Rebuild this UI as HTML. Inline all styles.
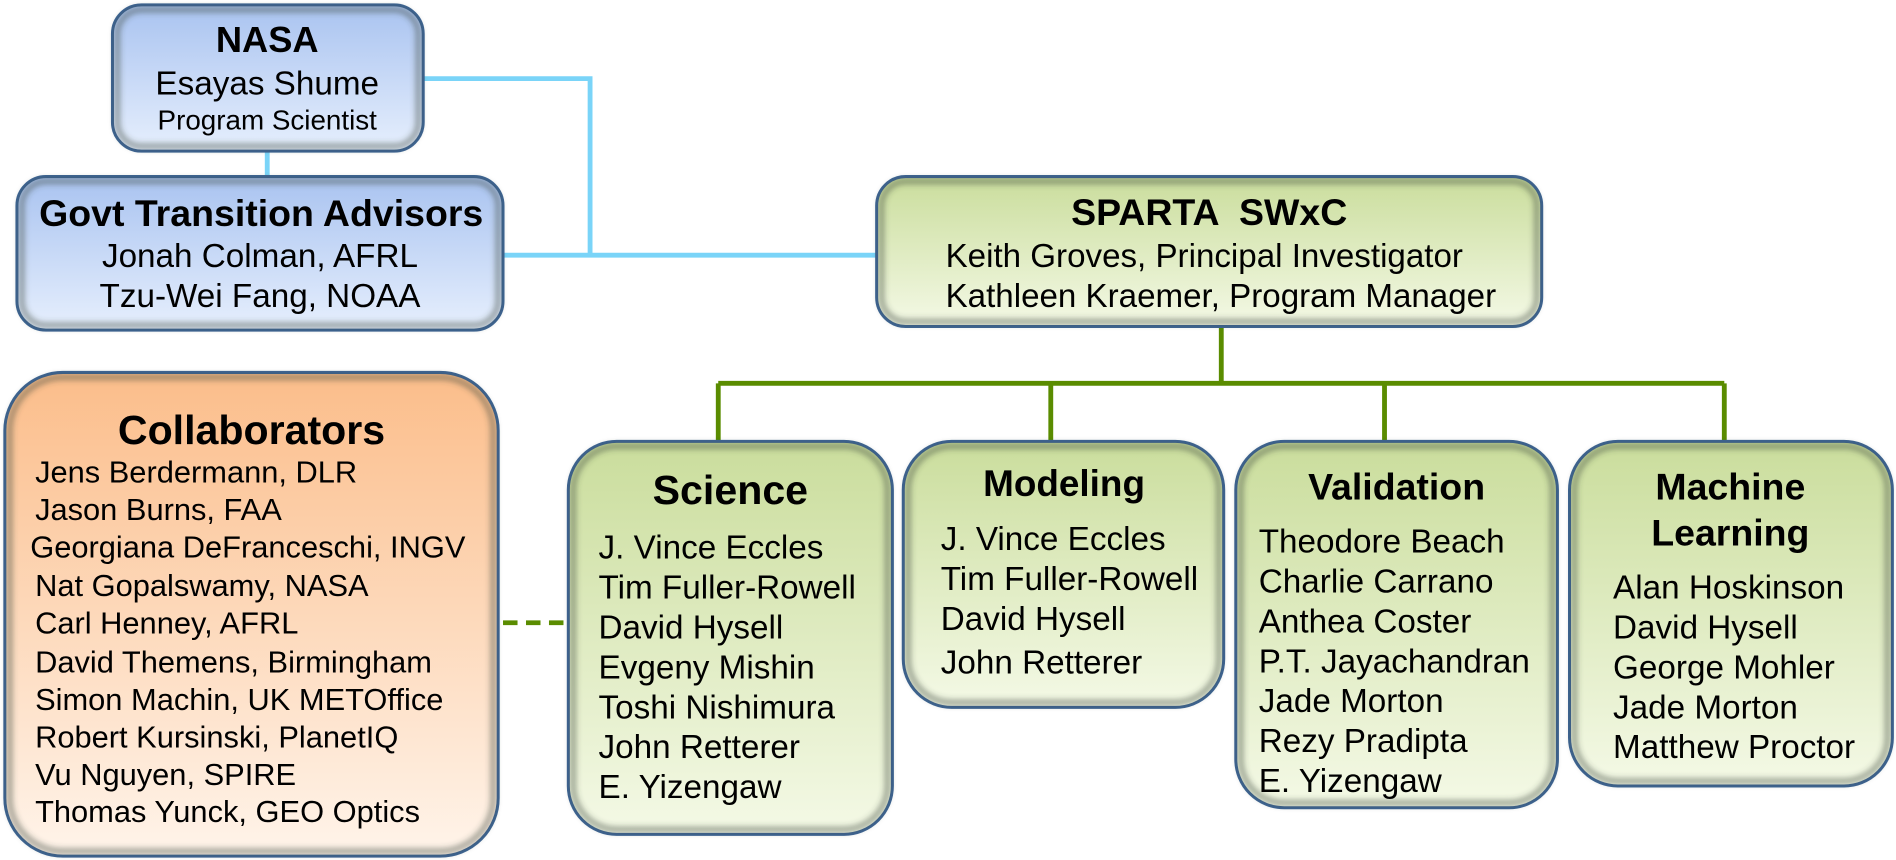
<!DOCTYPE html>
<html><head><meta charset="utf-8"><style>
html,body{margin:0;padding:0;background:#fff;}
svg{display:block;}
text{font-family:"Liberation Sans",Arial,sans-serif;fill:#000;}
.t{font-weight:bold;}
</style></head><body>
<svg width="1896" height="860" viewBox="0 0 1568 711.2" xmlns="http://www.w3.org/2000/svg">
<defs>
<linearGradient id="gb" x1="0" y1="0" x2="0" y2="1"><stop offset="0" stop-color="#a9c3f0"/><stop offset="1" stop-color="#e6effd"/></linearGradient>
<linearGradient id="gg" x1="0" y1="0" x2="0" y2="1"><stop offset="0" stop-color="#cadd9c"/><stop offset="1" stop-color="#f4f9e6"/></linearGradient>
<linearGradient id="go" x1="0" y1="0" x2="0" y2="1"><stop offset="0" stop-color="#fbbd8a"/><stop offset="1" stop-color="#fff4ea"/></linearGradient>
<filter id="bl" x="-5%" y="-5%" width="110%" height="110%"><feGaussianBlur stdDeviation="2.5"/></filter>
</defs>
<g stroke="#7ad4f8" stroke-width="4" fill="none">
<polyline points="350,65 488,65 488,211"/>
<line x1="416" y1="211" x2="725" y2="211"/>
<line x1="221" y1="125" x2="221" y2="146"/>
</g>
<g stroke="#5a8c00" stroke-width="4" fill="none">
<line x1="1010" y1="270" x2="1010" y2="317"/>
<line x1="594" y1="317" x2="1426" y2="317"/>
<line x1="594" y1="317" x2="594" y2="365"/>
<line x1="869" y1="317" x2="869" y2="365"/>
<line x1="1145" y1="317" x2="1145" y2="365"/>
<line x1="1426" y1="317" x2="1426" y2="365"/>
<line x1="416" y1="515" x2="466" y2="515" stroke-dasharray="12,7"/>
</g>
<g stroke="#3d6494" stroke-width="2.5">
<rect x="93" y="4" width="257" height="121" rx="24" fill="url(#gb)"/>
<rect x="14" y="146" width="402" height="127" rx="24" fill="url(#gb)"/>
<rect x="725" y="146" width="550" height="124" rx="24" fill="url(#gg)"/>
<rect x="4" y="308" width="408" height="400" rx="48" fill="url(#go)"/>
<rect x="470" y="365" width="268" height="325" rx="40" fill="url(#gg)"/>
<rect x="747" y="365" width="265" height="220" rx="40" fill="url(#gg)"/>
<rect x="1022" y="365" width="266" height="303" rx="40" fill="url(#gg)"/>
<rect x="1298" y="365" width="267" height="285" rx="40" fill="url(#gg)"/>
</g>
<g stroke="rgba(60,70,60,0.45)" stroke-width="5" fill="none" filter="url(#bl)">
<rect x="97" y="8" width="249" height="113" rx="20"/>
<rect x="18" y="150" width="394" height="119" rx="20"/>
<rect x="729" y="150" width="542" height="116" rx="20"/>
<rect x="8" y="312" width="400" height="392" rx="44"/>
<rect x="474" y="369" width="260" height="317" rx="36"/>
<rect x="751" y="369" width="257" height="212" rx="36"/>
<rect x="1026" y="369" width="258" height="295" rx="36"/>
<rect x="1302" y="369" width="259" height="277" rx="36"/>
</g>
<g text-anchor="middle">
<text x="221" y="43" font-size="30" class="t">NASA</text>
<text x="221" y="78" font-size="27.5">Esayas Shume</text>
<text x="221" y="107" font-size="23">Program Scientist</text>
<text x="216" y="187" font-size="31" class="t">Govt Transition Advisors</text>
<text x="215" y="221" font-size="27.5">Jonah Colman, AFRL</text>
<text x="215" y="254" font-size="27.5">Tzu-Wei Fang, NOAA</text>
<text x="1000" y="186" font-size="31" class="t" xml:space="preserve">SPARTA  SWxC</text>
<text x="208" y="367" font-size="34" class="t">Collaborators</text>
<text x="604" y="417" font-size="34" class="t">Science</text>
<text x="880" y="410" font-size="30.5" class="t">Modeling</text>
<text x="1155" y="413" font-size="31" class="t">Validation</text>
<text x="1431" y="413" font-size="31" class="t">Machine</text>
<text x="1431" y="451" font-size="31" class="t">Learning</text>
</g>
<g font-size="27.4">
<text x="782" y="221">Keith Groves, Principal Investigator</text>
<text x="782" y="254">Kathleen Kraemer, Program Manager</text>
</g>
<g font-size="25.5">
<text x="29" y="399">Jens Berdermann, DLR</text>
<text x="29" y="430">Jason Burns, FAA</text>
<text x="25" y="461">Georgiana DeFranceschi, INGV</text>
<text x="29" y="493">Nat Gopalswamy, NASA</text>
<text x="29" y="524">Carl Henney, AFRL</text>
<text x="29" y="556">David Themens, Birmingham</text>
<text x="29" y="587">Simon Machin, UK METOffice</text>
<text x="29" y="618">Robert Kursinski, PlanetIQ</text>
<text x="29" y="649">Vu Nguyen, SPIRE</text>
<text x="29" y="680">Thomas Yunck, GEO Optics</text>
</g>
<g font-size="27.5">
<text x="495" y="462">J. Vince Eccles</text>
<text x="495" y="495">Tim Fuller-Rowell</text>
<text x="495" y="528">David Hysell</text>
<text x="495" y="561">Evgeny Mishin</text>
<text x="495" y="594">Toshi Nishimura</text>
<text x="495" y="627">John Retterer</text>
<text x="495" y="660">E. Yizengaw</text>
<text x="778" y="455">J. Vince Eccles</text>
<text x="778" y="488">Tim Fuller-Rowell</text>
<text x="778" y="521">David Hysell</text>
<text x="778" y="557">John Retterer</text>
<text x="1041" y="457">Theodore Beach</text>
<text x="1041" y="490">Charlie Carrano</text>
<text x="1041" y="523">Anthea Coster</text>
<text x="1041" y="556">P.T. Jayachandran</text>
<text x="1041" y="589">Jade Morton</text>
<text x="1041" y="622">Rezy Pradipta</text>
<text x="1041" y="655">E. Yizengaw</text>
<text x="1334" y="495">Alan Hoskinson</text>
<text x="1334" y="528">David Hysell</text>
<text x="1334" y="561">George Mohler</text>
<text x="1334" y="594">Jade Morton</text>
<text x="1334" y="627">Matthew Proctor</text>
</g>
</svg>
</body></html>
